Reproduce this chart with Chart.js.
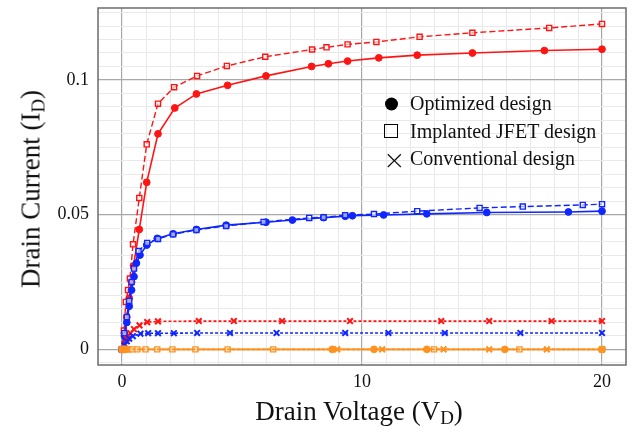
<!DOCTYPE html>
<html>
<head>
<meta charset="utf-8">
<script src="https://cdn.jsdelivr.net/npm/chart.js@4.4.1/dist/chart.umd.min.js"></script>
<style>
  html, body { margin:0; padding:0; background:#fff; }
  #wrap { position:relative; width:633px; height:435px; font-family:"Liberation Serif","Times New Roman",serif; color:#111; }
  #chart { position:absolute; left:0; top:0; }
  .ytitle { position:absolute; left:31px; top:189px; transform:translate(-50%,-50%) rotate(-90deg); font-size:27px; white-space:nowrap; }
  .xtitle { position:absolute; left:359px; top:411px; transform:translate(-50%,-50%); font-size:27px; white-space:nowrap; }
  sub { font-size:0.7em; vertical-align:-0.25em; line-height:0; }
  .legend { position:absolute; left:382px; top:90px; font-size:20px; }
  .leg-row { position:relative; height:27.5px; line-height:27.5px; padding-left:28px; white-space:nowrap; }
  .mk { position:absolute; left:4px; top:50%; transform:translateY(-50%); }
  .mk.dot { width:13px; height:13px; border-radius:50%; background:#000; left:3px; }
  .mk.sq  { width:12px; height:12px; border:1.4px solid #000; left:2px; }
  .mk.x   { font-size:27px; left:1px; line-height:27px; font-family:"DejaVu Sans",sans-serif; font-weight:200; }
</style>
</head>
<body>
<div id="wrap">
  <canvas id="chart" width="633" height="435"></canvas>
  <div class="ytitle">Drain Current (I<sub>D</sub>)</div>
  <div class="xtitle">Drain Voltage (V<sub>D</sub>)</div>
  <div class="legend">
    <div class="leg-row"><span class="mk dot"></span>Optimized design</div>
    <div class="leg-row"><span class="mk sq"></span>Implanted JFET design</div>
    <div class="leg-row"><span class="mk x">×</span>Conventional design</div>
  </div>
</div>

<script>
// ── Data ──────────────────────────────────────────────────────────────
const xTicks = [-1,0,1,2,3,4,5,6,7,8,9,10,11,12,13,14,15,16,17,18,19,20,21];
const xLabels = { 0:'0', 10:'10', 20:'20' };
const yTicks = [-0.005,0,0.005,0.01,0.015,0.02,0.025,0.03,0.035,0.04,0.045,0.05,0.055,0.06,0.065,0.07,0.075,0.08,0.085,0.09,0.095,0.1,0.105,0.11,0.115,0.12,0.125];
const yLabels = { '0':'0', '0.05':'0.05', '0.1':'0.1' };

// red – optimized
const redOptV = [0,0.1,0.2,0.3,0.4,0.48,0.72,1.03,1.5,2.2,3.1,4.4,6.0,7.9,8.6,9.4,10.7,12.3,14.6,17.6,20];
const redOptI = [0,0.006,0.012,0.019,0.025,0.031,0.0445,0.062,0.080,0.0896,0.0948,0.098,0.1015,0.105,0.106,0.107,0.1082,0.1092,0.110,0.1109,0.1114];
// red – implanted JFET
const redImpV = [0,0.08,0.16,0.25,0.33,0.46,0.72,1.03,1.5,2.17,3.13,4.37,5.97,7.92,8.52,9.4,10.6,12.4,14.6,17.8,20];
const redImpI = [0,0.007,0.0176,0.022,0.0263,0.039,0.0562,0.0761,0.0912,0.0973,0.1015,0.1052,0.1086,0.1113,0.1121,0.1132,0.1141,0.116,0.1175,0.1193,0.1208];
// red – conventional
const redConV = [0,0.1,0.2,0.35,0.5,0.73,1.05,1.5,3.2,4.66,6.67,9.5,13.3,15.3,17.9,20];
const redConI = [0,0.002,0.004,0.006,0.0075,0.0089,0.0101,0.0104,0.0105,0.0105,0.0105,0.0105,0.0105,0.0105,0.0105,0.0105];

// blue – optimized
const blueOptV = [0,0.1,0.2,0.3,0.4,0.5,0.6,0.75,1.03,1.47,2.13,3.1,4.34,6.0,7.1,8.4,9.3,9.6,10.9,12.7,15.2,18.6,20];
const blueOptI = [0,0.005,0.010,0.016,0.022,0.027,0.032,0.035,0.0387,0.0412,0.0429,0.0445,0.0461,0.0472,0.048,0.0489,0.0494,0.0496,0.0499,0.0503,0.0508,0.051,0.0513];
// blue – implanted JFET
const blueImpV = [0,0.1,0.2,0.3,0.4,0.5,0.69,1.05,1.5,2.13,3.1,4.34,5.9,7.8,8.4,9.3,10.5,12.3,14.9,16.7,19.2,20];
const blueImpI = [0,0.006,0.012,0.018,0.025,0.030,0.0365,0.0395,0.041,0.0427,0.0443,0.0458,0.0473,0.0488,0.049,0.0498,0.0502,0.0513,0.0525,0.053,0.0536,0.0539];
// blue – conventional
const blueConV = [0,0.1,0.2,0.3,0.45,0.77,1.09,1.5,2.16,3.13,4.5,6.44,9.3,11.1,13.45,16.6,20];
const blueConI = [0,0.0015,0.003,0.004,0.0049,0.0058,0.006,0.006,0.006,0.0061,0.0061,0.0061,0.0061,0.0061,0.0061,0.0061,0.0061];

// orange – all three designs stay at zero
const orgOptV = [0,0.05,0.1,0.15,8.76,10.5,12.7,15.95,20];
const orgOptI = [0,0,0,0,0,0,0,0,0];
const orgImpV = [0.28,0.43,0.64,0.98,1.47,2.1,3.06,4.4,6.3,13.0,16.56,20];
const orgImpI = [0,0,0,0,0,0,0,0,0,0,0,0];
const orgConV = [0,0.1,0.2,8.97,10.84,13.4,15.3,17.7,20];
const orgConI = [0,0,0,0,0,0,0,0,0];

// ── Helpers ───────────────────────────────────────────────────────────
const RED = '#ff1414', BLUE = '#1026ff', ORANGE = '#ff921f';

function pts(xs, ys) { return xs.map((x,i) => ({ x, y: ys[i] })); }

function series(xs, ys, color, kind) {
    const base = { data: pts(xs, ys), showLine: true, borderColor: color, pointBorderColor: color };
    if (kind === 'opt') return { ...base, borderWidth: 1.6, pointStyle: 'circle', pointRadius: 3.4, pointBackgroundColor: color, pointBorderWidth: 1 };
    if (kind === 'imp') return { ...base, borderWidth: 1.4, borderDash: [6,3], pointStyle: 'rect', pointRadius: 3.6, pointBackgroundColor: 'rgba(255,255,255,0.6)', pointBorderWidth: 1.4 };
    return { ...base, borderWidth: 1.6, borderDash: [3,2], pointStyle: 'crossRot', pointRadius: 4, pointBorderWidth: 2 };
}

const isMajor = (v, step) => Math.abs(v / step - Math.round(v / step)) < 1e-6;

// frame around the plot area
const framePlugin = {
    id: 'frame',
    afterDraw(chart) {
        const { ctx, chartArea: a } = chart;
        ctx.save();
        ctx.strokeStyle = '#6e6e6e';
        ctx.lineWidth = 1.5;
        ctx.strokeRect(a.left, a.top, a.right - a.left, a.bottom - a.top);
        ctx.restore();
    }
};

// ── Chart ─────────────────────────────────────────────────────────────
new Chart(document.getElementById('chart').getContext('2d'), {
    type: 'scatter',
    data: {
        datasets: [
            series(orgConV, orgConI, ORANGE, 'con'),
            series(orgImpV, orgImpI, ORANGE, 'imp'),
            series(orgOptV, orgOptI, ORANGE, 'opt'),
            series(blueConV, blueConI, BLUE, 'con'),
            series(redConV, redConI, RED, 'con'),
            series(blueImpV, blueImpI, BLUE, 'imp'),
            series(blueOptV, blueOptI, BLUE, 'opt'),
            series(redImpV, redImpI, RED, 'imp'),
            series(redOptV, redOptI, RED, 'opt'),
        ]
    },
    options: {
        responsive: false,
        animation: false,
        layout: { padding: { top: 8, right: 7, left: 0, bottom: 0 } },
        plugins: { legend: { display: false }, tooltip: { enabled: false } },
        scales: {
            x: {
                type: 'linear', min: -1, max: 21,
                afterBuildTicks: s => { s.ticks = xTicks.map(v => ({ value: v })); },
                afterFit: s => { s.height = 70; s.paddingLeft = 0; s.paddingRight = 0; },
                ticks: {
                    autoSkip: false, maxRotation: 0, padding: 6, color: '#111',
                    font: { family: 'Liberation Serif', size: 18 },
                    callback: v => xLabels[v] ?? ''
                },
                grid: {
                    drawTicks: false,
                    color: c => isMajor(c.tick.value, 10) ? '#a8a8a8' : '#e9e9e9',
                    lineWidth: c => isMajor(c.tick.value, 10) ? 1.2 : 1
                },
                border: { display: false }
            },
            y: {
                type: 'linear', min: -0.0058, max: 0.1267,
                afterBuildTicks: s => { s.ticks = yTicks.map(v => ({ value: v })); },
                afterFit: s => { s.width = 98; s.paddingTop = 0; s.paddingBottom = 0; },
                ticks: {
                    autoSkip: false, padding: 9, color: '#111',
                    font: { family: 'Liberation Serif', size: 18 },
                    callback: v => yLabels[String(+v.toFixed(4))] ?? ''
                },
                grid: {
                    drawTicks: false,
                    color: c => isMajor(c.tick.value, 0.05) ? '#a8a8a8' : '#e9e9e9',
                    lineWidth: c => isMajor(c.tick.value, 0.05) ? 1.2 : 1
                },
                border: { display: false }
            }
        }
    },
    plugins: [framePlugin]
});
</script>
</body>
</html>
